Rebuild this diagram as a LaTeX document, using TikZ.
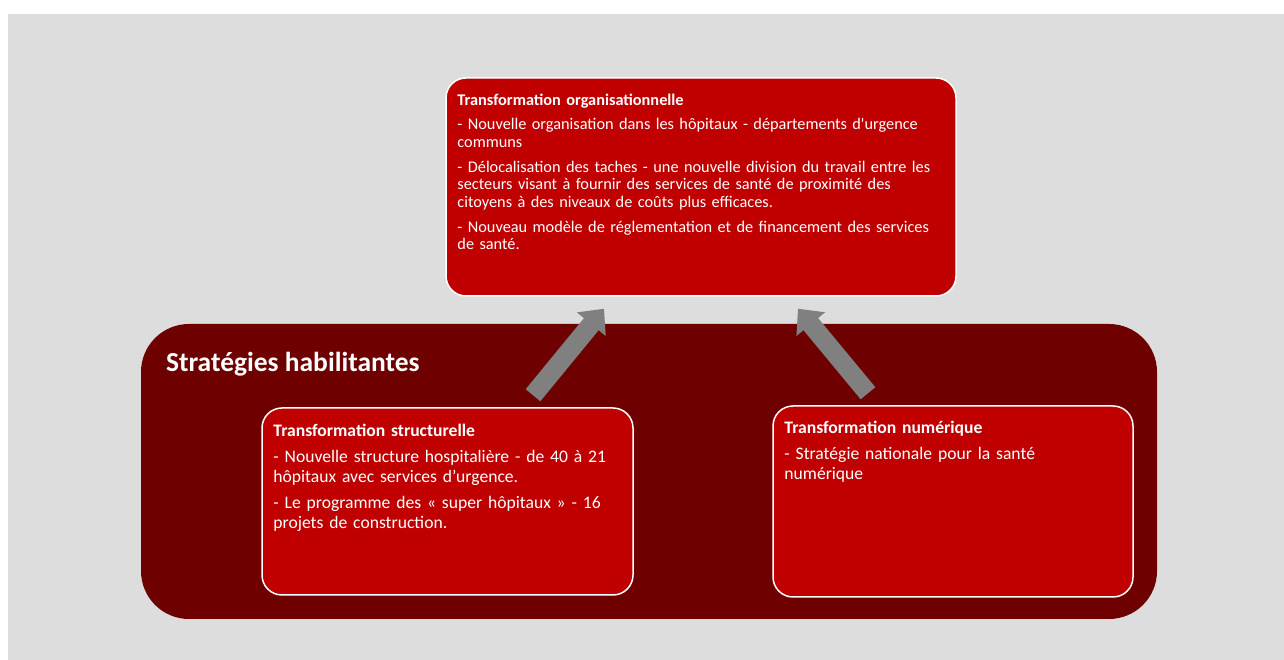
\documentclass[tikz,border=0pt]{standalone}
\usepackage{fontspec}
\setmainfont{Carlito}
\usetikzlibrary{arrows.meta,calc}

\definecolor{slidegray}{HTML}{DDDDDD}
\definecolor{boxred}{HTML}{C00000}
\definecolor{darkred}{HTML}{6E0000}
\definecolor{arrowgray}{HTML}{808080}

\tikzset{
  redbox/.style={draw=white, line width=1.5pt, fill=boxred, rounded corners=20pt, inner sep=0pt},
  boxtext/.style={anchor=north west, inner sep=0pt, text=white, align=left},
  bigarrow/.style={arrowgray, line width=19pt, -{Triangle[width=36pt,length=20pt]}}
}

\begin{document}
\begin{tikzpicture}[
      x=1pt, y=1pt, % one unit per pixel
      font=\fontsize{17.6}{20}\selectfont
  ]

\useasboundingbox[fill=white] (0,0) rectangle (1284,660);
\fill[slidegray] (8,0) rectangle (1284,646);

% frame of the enabling strategies
\node[fill=darkred, rounded corners=48pt, inner sep=0pt,
      minimum width=1016pt, minimum height=295pt] (enabling) at (649,188.5) {};
\node[anchor=base west, inner sep=0pt, text=white, font=\fontsize{27.5}{30}\selectfont\bfseries]
  (enablingtitle) at ($(enabling.north west)+(25,-48)$) {Stratégies habilitantes};

% the three transformation boxes
\node[redbox, minimum width=510pt, minimum height=218pt] (org) at (701,473) {};
\node[redbox, minimum width=371pt, minimum height=187pt] (struct) at (447.5,158.5) {};
\node[redbox, minimum width=360pt, minimum height=191pt] (numer) at (953,158.5) {};

\node[boxtext, text width=495pt, font=\fontsize{16.3}{17.5}\selectfont] (orgtext)
  at ($(org.north west)+(12,-17)$) {%
  \textbf{Transformation organisationnelle}\\[6.5pt]
  - Nouvelle organisation dans les hôpitaux - départements d\textquotesingle urgence\\
  communs\\[7.5pt]
  - Délocalisation des taches - une nouvelle division du travail entre les\\
  secteurs visant à fournir des services de santé de proximité des\\
  citoyens à des niveaux de coûts plus efficaces.\\[7.5pt]
  - Nouveau modèle de réglementation et de financement des services\\
  de santé.};

\node[boxtext, text width=355pt] (structtext) at ($(struct.north west)+(12,-17)$) {%
  \textbf{Transformation structurelle}\\[6pt]
  - Nouvelle structure hospitalière - de 40 à 21\\
  hôpitaux avec services d’urgence.\\[6pt]
  - Le programme des «~super hôpitaux~» - 16\\
  projets de construction.};

\node[boxtext, text width=345pt] (numertext) at ($(numer.north west)+(12,-16)$) {%
  \textbf{Transformation numérique}\\[6pt]
  - Stratégie nationale pour la santé\\
  numérique};

% arrows up to the organisational box
\foreach \from/\dx/\tox in {struct/85.5/-97, numer/-85/97}{
  \draw[bigarrow] ($(\from.north)+(\dx,12)$) -- ($(org.south)+(\tox,-12)$);
}

\end{tikzpicture}
\end{document}
